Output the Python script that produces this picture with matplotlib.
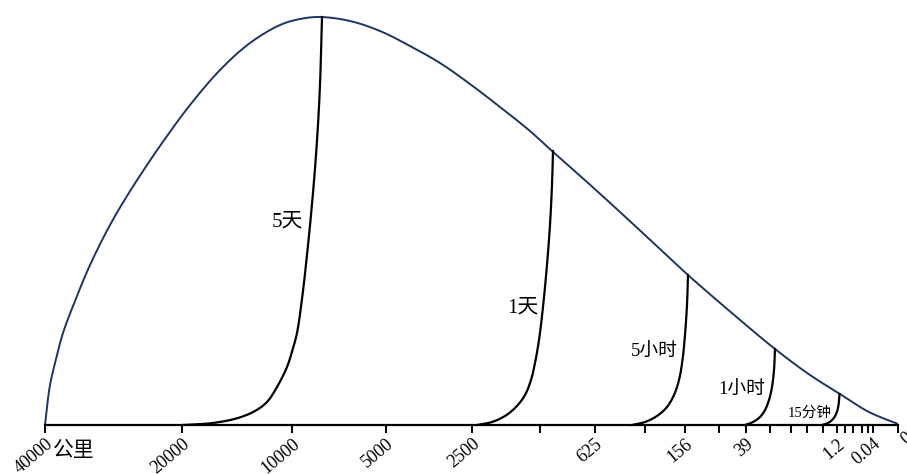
import matplotlib
matplotlib.use("Agg")
import matplotlib.pyplot as plt
import numpy as np

# positions along the distance axis and height above it
env_x = [45, 47, 50, 56, 63, 75, 90, 110, 127, 147, 167, 190, 220, 250, 280,
         300, 320, 350, 380, 410, 440, 470, 500, 530, 552, 587, 620, 660, 688,
         733, 775, 810, 840, 867, 885, 897]
env_h = [0, 18, 40, 66, 92, 124, 160, 200, 229, 260, 289, 320, 355, 382, 400,
         406, 408, 404, 394, 379, 362, 341, 318, 294, 274, 243, 213, 176, 150,
         111, 76, 50, 31, 14, 6, 1.5]

curves = {
    "5天": ([183, 213, 238, 255, 267, 277, 287, 292.5, 297, 302.5, 307, 311,
            314.5, 317.5, 320, 322],
           [0, 2, 7, 14, 23, 38, 58, 75, 92, 130, 170, 210, 250, 292, 340, 408]),
    "1天": ([477, 492, 505, 516, 525, 531, 535, 539, 543, 547, 550, 552, 553],
           [0, 3, 9, 18, 30, 45, 62, 85, 118, 160, 200, 240, 274]),
    "5小时": ([632, 645, 657, 667, 674, 679, 682.5, 685, 687, 688],
            [0, 3, 9, 18, 30, 45, 65, 90, 120, 150]),
    "1小时": ([745, 753, 760, 765, 769, 772, 774, 775],
            [0, 3, 8, 15, 25, 38, 55, 76]),
    "15分钟": ([822, 828, 833, 836.5, 838.5, 839.5],
             [0, 2, 6, 12, 20, 31]),
}

# label anchors (centre) and sizes
labels = {
    "5天": (287, 203, 15),
    "1天": (523, 117, 15),
    "5小时": (654, 73, 13.5),
    "1小时": (742, 35, 13.5),
    "15分钟": (810, 12, 10.5),
}

tick_pos = [45, 182, 292, 386, 472, 540, 595, 645, 685, 719, 746, 770, 791,
            807, 823, 837, 845, 853, 862, 868, 873, 898]
tick_lab = ["40000", "20000", "10000", "5000", "2500", "", "625", "", "156", "",
            "39", "", "", "", "", "1.2", "", "", "", "", "0.04", "0"]

fam = ["Liberation Serif", "Noto Sans CJK SC"]


def smooth(xs, ys, n=16):
    # centripetal catmull-rom, only to draw a smooth line through the points
    p = np.column_stack([xs, ys]).astype(float)
    p = np.vstack([2 * p[0] - p[1], p, 2 * p[-1] - p[-2]])
    out = []
    for i in range(1, len(p) - 2):
        p0, p1, p2, p3 = p[i - 1], p[i], p[i + 1], p[i + 2]
        t0 = 0.0
        t1 = t0 + np.linalg.norm(p1 - p0) ** 0.5
        t2 = t1 + np.linalg.norm(p2 - p1) ** 0.5
        t3 = t2 + np.linalg.norm(p3 - p2) ** 0.5
        t = np.linspace(t1, t2, n)[:, None]
        a1 = (t1 - t) / (t1 - t0) * p0 + (t - t0) / (t1 - t0) * p1
        a2 = (t2 - t) / (t2 - t1) * p1 + (t - t1) / (t2 - t1) * p2
        a3 = (t3 - t) / (t3 - t2) * p2 + (t - t2) / (t3 - t2) * p3
        b1 = (t2 - t) / (t2 - t0) * a1 + (t - t0) / (t2 - t0) * a2
        b2 = (t3 - t) / (t3 - t1) * a2 + (t - t1) / (t3 - t1) * a3
        c = (t2 - t) / (t2 - t1) * b1 + (t - t1) / (t2 - t1) * b2
        out.append(c if i == 1 else c[1:])
    c = np.vstack(out)
    return c[:, 0], c[:, 1]


fig = plt.figure(figsize=(9.07, 4.74), dpi=100)
ax = fig.add_axes([0, 0, 1, 1])
ax.set_xlim(0, 907)
ax.set_ylim(-49, 425)

sx, sy = smooth(env_x, env_h)
ax.plot(sx, sy, color="#1d3461", lw=1.4, solid_capstyle="round")
for name, (cx, ch) in curves.items():
    sx, sy = smooth(cx, ch)
    ax.plot(sx, sy, color="black", lw=1.6)
    lx, ly, fs = labels[name]
    ax.text(lx, ly, name, ha="center", va="center", fontsize=fs, family=fam)

for s in ["top", "left", "right"]:
    ax.spines[s].set_visible(False)
ax.spines["bottom"].set_position(("data", 0))
ax.spines["bottom"].set_bounds(45, 898)
ax.spines["bottom"].set_linewidth(1.6)
ax.set_yticks([])
ax.set_xticks(tick_pos)
ax.set_xticklabels(tick_lab, rotation=40, ha="right", va="top",
                   rotation_mode="anchor", fontsize=13, family="Liberation Serif")
ax.tick_params(axis="x", direction="out", length=6, width=1.4, pad=1.5)
last = ax.get_xticklabels()[-1]
last.set_ha("left")

ax.text(53, -25, "公里", ha="left", va="center", fontsize=15,
        family="Noto Sans CJK SC")

fig.savefig("out.png", dpi=100)
